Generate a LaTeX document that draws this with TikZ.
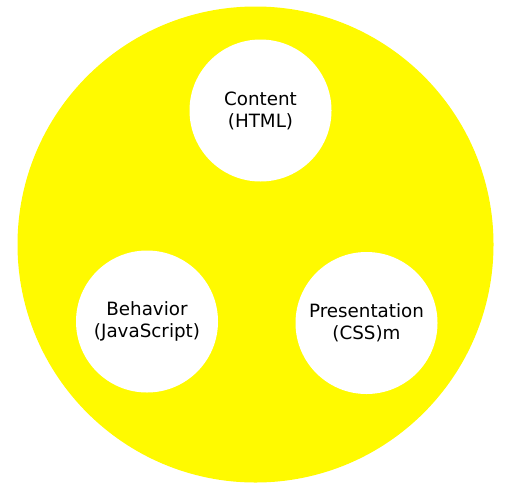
\documentclass[tikz,border=0pt]{standalone}
\usepackage{fontspec}
\setmainfont{DejaVu Sans}
\definecolor{webyellow}{RGB}{255,250,0}
\tikzset{
  part/.style={circle,fill=white,minimum size=142pt,inner sep=0pt,align=center,
    font=\fontsize{18.3}{22}\selectfont}
}
\begin{document}
\begin{tikzpicture}[x=1pt,y=-1pt]
\useasboundingbox (0,0) rectangle (513,490);

\node[circle,fill=webyellow,minimum size=476pt,inner sep=0pt] (web) at (255.5,244.5) {};

\node[part] (content) at (260.5,110.5) {Content\\(HTML)};
\node[part] (behavior) at (147,321.5) {Behavior\\(JavaScript)};
\node[part] (presentation) at (366.5,323) {Presentation\\(CSS)m};
\end{tikzpicture}
\end{document}
